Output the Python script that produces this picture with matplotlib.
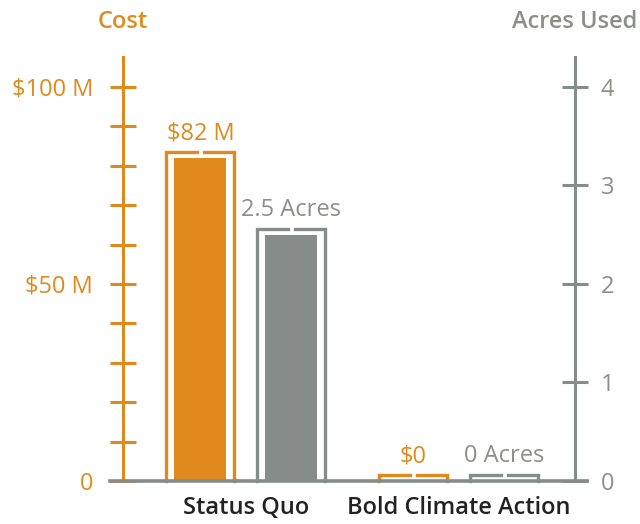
import matplotlib.pyplot as plt
import numpy as np

# dados
categorias = ['Status Quo', 'Bold Climate Action']
custo = [82, 0]          # $ milhoes
acres = [2.5, 0]         # acres usados
rot_custo = ['$82 M', '$0']
rot_acres = ['2.5 Acres', '0 Acres']

laranja = '#E08A1E'
cinza = '#858C8A'
cinza_txt = '#8C8F89'
plt.rcParams['font.family'] = ['Open Sans', 'DejaVu Sans']

fig = plt.figure(figsize=(6.4, 5.24), dpi=100)
ax = fig.add_axes([123/640, 43/524, 452/640, 424/524])
ax2 = ax.twinx()

ax.set_xlim(-0.577, 1.545)
ax.set_ylim(0, 107.6)
ax2.set_ylim(0, 107.6/25)

x = np.arange(len(categorias))
desl = 0.2136
larg_fill = 0.244
larg_borda = 0.319
folga = 7/213


def moldura(eixo, xc, topo, cor):
    esq, dir_ = xc - larg_borda/2, xc + larg_borda/2
    eixo.plot([esq, esq, xc - folga/2], [0, topo, topo], color=cor, lw=2.4,
              solid_joinstyle='miter', clip_on=False)
    eixo.plot([xc + folga/2, dir_, dir_], [topo, topo, 0], color=cor, lw=2.4,
              solid_joinstyle='miter', clip_on=False)


ax.bar(x - desl, custo, width=larg_fill, color=laranja)
ax2.bar(x + desl, acres, width=larg_fill, color=cinza)
for i in range(len(categorias)):
    topo = custo[i] + 1.5
    moldura(ax, x[i] - desl, topo, laranja)
    ax.annotate(rot_custo[i], (x[i] - desl, topo), xytext=(0, 5), textcoords='offset points',
                ha='center', va='bottom', color=laranja, fontsize=17, fontweight='medium')
    topo2 = acres[i] + 1.5/25
    moldura(ax2, x[i] + desl, topo2, cinza)
    ax2.annotate(rot_acres[i], (x[i] + desl, topo2), xytext=(0, 5), textcoords='offset points',
                 ha='center', va='bottom', color=cinza_txt, fontsize=17, fontweight='medium')

# eixos
for s in ['top', 'bottom', 'right']:
    ax.spines[s].set_visible(False)
for s in ['top', 'bottom', 'left']:
    ax2.spines[s].set_visible(False)
ax.spines['left'].set_color(laranja)
ax.spines['left'].set_linewidth(2.2)
ax2.spines['right'].set_color(cinza)
ax2.spines['right'].set_linewidth(2.2)

ax.set_yticks(np.arange(0, 101, 10))
ax.set_yticklabels(['0', '', '', '', '', '$50 M', '', '', '', '', '$100 M'], fontweight='medium')
ax.tick_params(axis='y', direction='inout', length=19, width=2.2, color=laranja,
               labelcolor=laranja, labelsize=17, pad=12)
ax2.set_yticks([0, 1, 2, 3, 4])
ax2.set_yticklabels(['0', '1', '2', '3', '4'], fontweight='medium')
ax2.tick_params(axis='y', direction='inout', length=19, width=2.2, color=cinza,
                labelcolor=cinza_txt, labelsize=17, pad=9)

ax.set_xticks(x)
ax.set_xticklabels(categorias, fontsize=17, fontweight='semibold', color='#222222')
ax.tick_params(axis='x', length=0, pad=11)

# linha de base
ax.plot([-0.029, 1.027], [0, 0], transform=ax.get_yaxis_transform(), color=cinza,
        lw=2.6, clip_on=False, zorder=5)

fig.text(123/640, 1 - 22/524, 'Cost', ha='center', va='center', color=laranja,
         fontsize=17, fontweight='semibold')
fig.text(575/640, 1 - 22/524, 'Acres Used', ha='center', va='center', color=cinza_txt,
         fontsize=17, fontweight='semibold')

fig.savefig('out.png', dpi=100)
